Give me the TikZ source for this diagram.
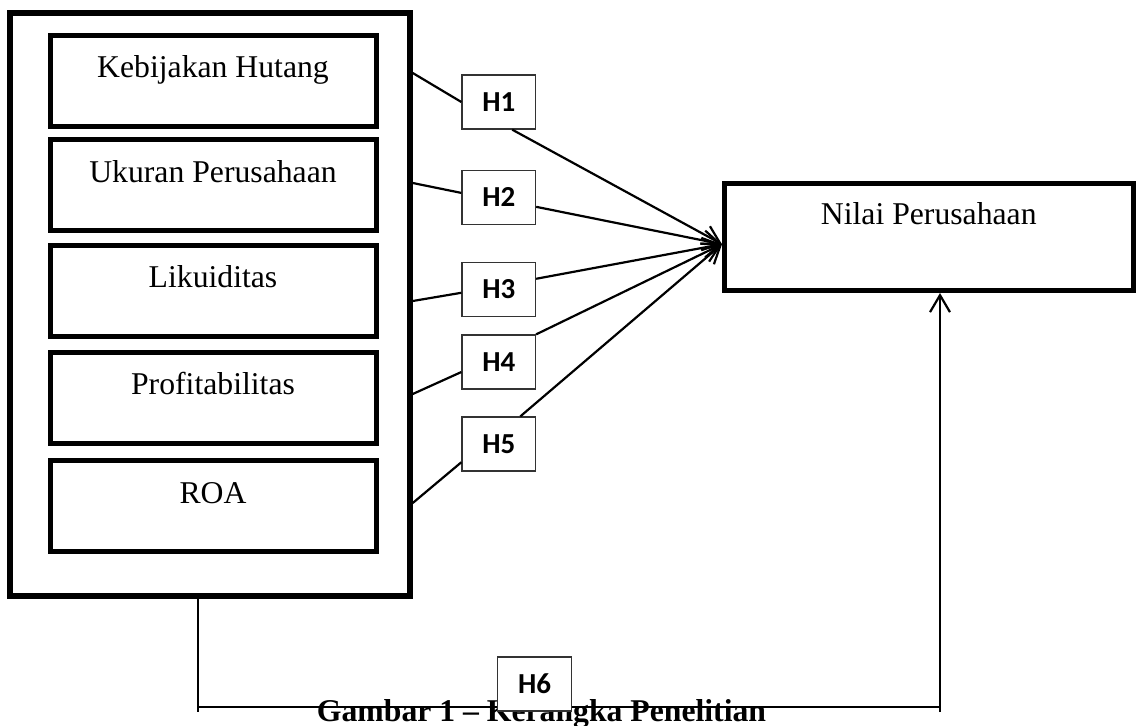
\documentclass[tikz,border=0pt]{standalone}
\usepackage{fontspec}
\setmainfont{Liberation Serif}
\newfontfamily\hfont{Carlito}
\usetikzlibrary{arrows.meta,calc}
\begin{document}
\begin{tikzpicture}[x=1pt,y=-1pt,
  varbox/.style={draw, line width=5pt, minimum width=326pt, minimum height=91pt, inner sep=0pt,
    text height=22pt, text depth=27.5pt, font=\fontsize{31.7}{38}\selectfont},
  hbox/.style={draw=black!80, line width=1.3pt, fill=white, minimum width=73.5pt, minimum height=54pt,
    inner sep=0pt, text height=18pt, text depth=-2pt, font=\hfont\bfseries\fontsize{29}{34}\selectfont},
  link/.style={line width=2.2pt},
  arr/.style={line width=2.2pt, -{Straight Barb[length=17pt,width=20pt]}},
]
\useasboundingbox (0,0) rectangle (1136,726);

% outer group box
\node[draw, line width=5.5pt, minimum width=400pt, minimum height=583pt, inner sep=0pt] (outer) at (210,304.5) {};

% variable boxes
\node[varbox] (v1) at (213,80.5) {Kebijakan Hutang};
\node[varbox] (v2) at (213,184.75) {Ukuran Perusahaan};
\node[varbox] (v3) at (213,290.5) {Likuiditas};
\node[varbox] (v4) at (213,397.5) {Profitabilitas};
\node[varbox] (v5) at (213,505.75) {ROA};

% dependent variable
\node[draw, line width=5pt, minimum width=408.5pt, minimum height=107pt, inner sep=0pt,
  text height=22pt, text depth=48pt, font=\fontsize{31.7}{38}\selectfont] (nilai) at (928.75,237) {Nilai Perusahaan};

% hypothesis boxes
\node[hbox] (h1) at (498.75,102) {H1};
\node[hbox] (h2) at (498.75,197.5) {H2};
\node[hbox] (h3) at (498.75,289.5) {H3};
\node[hbox] (h4) at (498.75,362) {H4};
\node[hbox] (h5) at (498.75,444) {H5};

% start points on the outer box
\coordinate (s1) at (outer.east |- 0,73);
\coordinate (s2) at (outer.east |- 0,183);
\coordinate (s3) at (outer.east |- 0,301);
\coordinate (s4) at (outer.east |- 0,394);
\coordinate (s5) at (outer.east |- 0,503);

\draw[link] (s1) -- (h1.west);
\draw[link] (s2) -- (h2.173);
\draw[link] (s3) -- (h3.185);
\draw[link] (s4) -- (h4.195);
\draw[link] (s5) -- (h5.206);

\draw[arr] (h1.-64) -- (nilai.182);
\draw[arr] (h2.-14.5) -- (nilai.182);
\draw[arr] (h3.16) -- (nilai.182);
\draw[arr] (h4.north east) -- (nilai.182);
\draw[arr] (h5.52.8) -- (nilai.182);

% caption
\node[anchor=base, inner sep=0pt, font=\bfseries\fontsize{31.7}{38}\selectfont] (cap) at (541.5,721) {Gambar 1 -- Kerangka Penelitian};

% H6 path
\coordinate (bl) at (198,712);
\coordinate (blh) at (198,707);
\coordinate (brh) at (940,707);
\coordinate (br) at (940,712);
\draw[link] (outer.south -| bl) -- (bl);
\draw[link] (blh) -- (brh);
\draw[arr] (br) -- (nilai.south -| br);

\node[hbox] (h6) at (534.5,684) {H6};
\end{tikzpicture}
\end{document}
